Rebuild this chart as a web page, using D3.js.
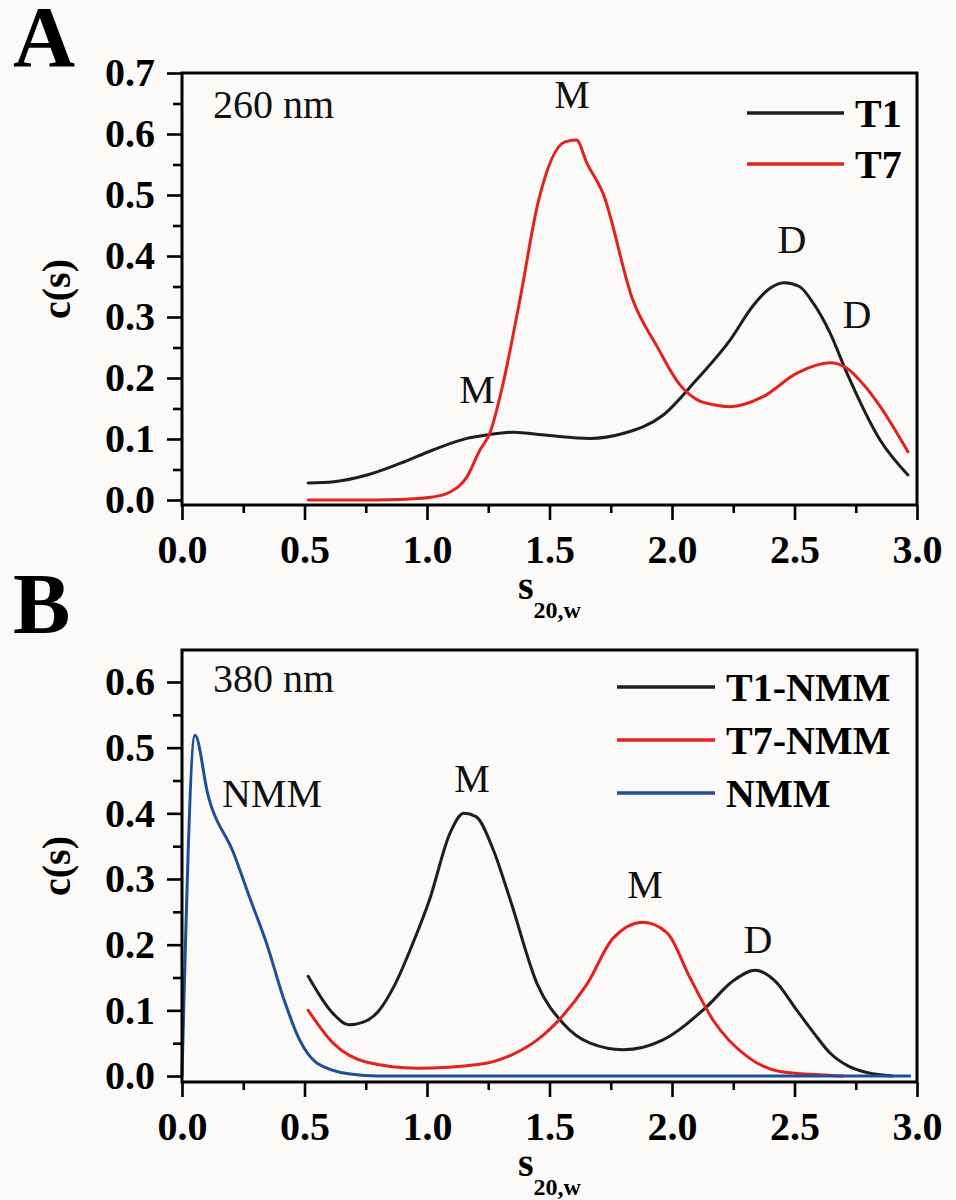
<!DOCTYPE html>
<meta charset="utf-8">
<style>
body { margin: 0; background: #fbfaf8; }
svg { display: block; font-family: "Liberation Serif", "Times New Roman", serif; }
.curve { fill: none; stroke-width: 3px; stroke-linejoin: round; stroke-linecap: round; }
.axis path { display: none; }
.axis line { stroke: #000; stroke-width: 2.6px; }
.axis text { font-family: "Liberation Serif", "Times New Roman", serif; font-size: 40px; font-weight: bold; fill: #000; }
.frame { fill: none; stroke: #000; stroke-width: 3px; }
.note { font-size: 40px; fill: #111; }
.legend text { font-size: 40px; font-weight: bold; fill: #000; }
.title { font-size: 40px; font-weight: bold; fill: #000; }
.letter { font-size: 86px; font-weight: bold; fill: #000; }
</style>
<body>
<script src="https://d3js.org/d3.v7.min.js"></script>
<script>

// tick values
var xTicks = [0, 0.5, 1.0, 1.5, 2.0, 2.5, 3.0];
var xMinor = [0.25, 0.75, 1.25, 1.75, 2.25, 2.75];
var yTicksA = [0, 0.1, 0.2, 0.3, 0.4, 0.5, 0.6, 0.7];
var yMinorA = [0.05, 0.15, 0.25, 0.35, 0.45, 0.55, 0.65];
var yTicksB = [0, 0.1, 0.2, 0.3, 0.4, 0.5, 0.6];
var yMinorB = [0.05, 0.15, 0.25, 0.35, 0.45, 0.55];

// panel A, 260 nm  [s20,w , c(s)]
var a_T1 = [[0.515,0.028],[0.62,0.030],[0.755,0.041],[0.89,0.060],[1.024,0.082],[1.163,0.101],
  [1.25,0.107],[1.35,0.111],[1.49,0.106],[1.665,0.101],[1.8,0.109],[1.963,0.139],[2.1,0.197],
  [2.237,0.262],[2.33,0.318],[2.40,0.347],[2.46,0.356],[2.52,0.350],[2.576,0.323],[2.645,0.274],
  [2.714,0.208],[2.85,0.098],[2.963,0.041]];
var a_T7 = [[0.515,0.0],[0.7,0.0],[0.89,0.001],[1.024,0.005],[1.094,0.013],[1.163,0.038],[1.216,0.082],
  [1.257,0.11],[1.31,0.19],[1.38,0.33],[1.453,0.487],[1.563,0.587],[1.61,0.59],[1.653,0.552],
  [1.718,0.503],[1.84,0.328],[1.94,0.251],[2.03,0.19],[2.1,0.165],[2.17,0.156],[2.237,0.153],
  [2.37,0.169],[2.51,0.208],[2.645,0.225],[2.714,0.216],[2.78,0.19],[2.85,0.153],[2.963,0.079]];

// panel B, 380 nm
var b_T1 = [[0.515,0.152],[0.617,0.095],[0.68,0.078],[0.74,0.082],[0.8,0.098],[0.87,0.14],[0.94,0.2],
  [1.01,0.268],[1.094,0.37],[1.15,0.40],[1.2,0.395],[1.27,0.345],[1.34,0.268],[1.45,0.14],[1.556,0.08],
  [1.666,0.05],[1.8,0.04],[1.963,0.055],[2.14,0.105],[2.25,0.145],[2.34,0.161],[2.42,0.145],[2.51,0.10],
  [2.58,0.065],[2.645,0.035],[2.72,0.015],[2.8,0.005],[2.9,0.0]];
var b_T7 = [[0.515,0.10],[0.617,0.05],[0.755,0.021],[0.96,0.012],[1.216,0.018],[1.35,0.033],[1.45,0.055],
  [1.55,0.09],[1.653,0.14],[1.76,0.21],[1.882,0.234],[1.98,0.218],[2.073,0.15],[2.168,0.085],[2.306,0.03],
  [2.44,0.007],[2.6,0.002],[2.7,0.0]];
var b_NMM = [[0.0,0.0],[0.053,0.519],[0.106,0.428],[0.21,0.34],[0.28,0.268],[0.347,0.20],[0.413,0.12],
  [0.48,0.055],[0.55,0.02],[0.686,0.003],[0.8,0.0],[2.97,0.0]];

// peak labels [text, s, c(s)]
var notesA = [["M",1.592,0.643],["D",2.49,0.405],["D",2.755,0.282],["M",1.204,0.159]];
var notesB = [["NMM",0.163,0.41],["M",1.184,0.432],["M",1.89,0.271],["D",2.351,0.187]];

var black = "#1e1e1e", red = "#e3221b", blue = "#1d4f9a";

var panels = [
  { letter: "A", letterY: 66, top: 73, bottom: 505, yDomain: [-0.0082, 0.7],
    yTicks: yTicksA, yMinor: yMinorA, wave: "260 nm", waveAt: [0.127, 0.626],
    series: [{name: "T1", data: a_T1, color: black}, {name: "T7", data: a_T7, color: red}],
    notes: notesA, legend: {x: 747, y: 113, gap: 51, len: 97} },
  { letter: "B", letterY: 633, top: 650, bottom: 1082, yDomain: [-0.0091, 0.6487],
    yTicks: yTicksB, yMinor: yMinorB, wave: "380 nm", waveAt: [0.127, 0.585],
    series: [{name: "T1-NMM", data: b_T1, color: black}, {name: "T7-NMM", data: b_T7, color: red},
             {name: "NMM", data: b_NMM, color: blue}],
    notes: notesB, legend: {x: 617, y: 687, gap: 53, len: 98} }
];

var left = 182, right = 917;

var svg = d3.select("body").append("svg")
  .attr("width", 956)
  .attr("height", 1200);

panels.forEach(function(p) {
  var x = d3.scaleLinear().domain([0, 3]).range([left, right]);
  var y = d3.scaleLinear().domain(p.yDomain).range([p.bottom, p.top]);
  var g = svg.append("g");

  // panel letter
  g.append("text").attr("class", "letter")
    .attr("x", 13).attr("y", p.letterY).text(p.letter);

  // curves
  var line = d3.line()
    .x(function(d) { return x(d[0]); })
    .y(function(d) { return y(d[1]); })
    .curve(d3.curveMonotoneX);
  p.series.forEach(function(s) {
    g.append("path").datum(s.data)
      .attr("class", "curve")
      .attr("stroke", s.color)
      .attr("d", line);
  });

  // x axis (major + minor)
  g.append("g").attr("class", "axis")
    .attr("transform", "translate(0," + p.bottom + ")")
    .call(d3.axisBottom(x).tickValues(xTicks).tickSize(15).tickPadding(15)
      .tickFormat(d3.format(".1f")));
  g.append("g").attr("class", "axis")
    .attr("transform", "translate(0," + p.bottom + ")")
    .call(d3.axisBottom(x).tickValues(xMinor).tickSize(8).tickFormat(""));

  // y axis
  g.append("g").attr("class", "axis")
    .attr("transform", "translate(" + left + ",0)")
    .call(d3.axisLeft(y).tickValues(p.yTicks).tickSize(15).tickPadding(12)
      .tickFormat(d3.format(".1f")));
  g.append("g").attr("class", "axis")
    .attr("transform", "translate(" + left + ",0)")
    .call(d3.axisLeft(y).tickValues(p.yMinor).tickSize(9).tickFormat(""));

  // frame
  g.append("rect").attr("class", "frame")
    .attr("x", left).attr("y", p.top)
    .attr("width", right - left).attr("height", p.bottom - p.top);

  // axis titles
  var xt = g.append("text").attr("class", "title")
    .attr("x", (left + right) / 2).attr("y", p.bottom + 94)
    .attr("text-anchor", "middle");
  xt.append("tspan").text("s");
  xt.append("tspan").attr("dy", 19).style("font-size", "24px").text("20,w");

  g.append("text").attr("class", "title")
    .attr("transform", "translate(70," + (p.top + p.bottom) / 2 + ") rotate(-90)")
    .attr("text-anchor", "middle")
    .text("c(s)");

  // wavelength + peak labels
  g.append("text").attr("class", "note")
    .attr("x", x(p.waveAt[0])).attr("y", y(p.waveAt[1]))
    .text(p.wave);
  g.selectAll(".peak").data(p.notes).enter().append("text")
    .attr("class", "note")
    .attr("text-anchor", function(d) { return d[0] === "NMM" ? "start" : "middle"; })
    .attr("x", function(d) { return x(d[1]); })
    .attr("y", function(d) { return y(d[2]); })
    .text(function(d) { return d[0]; });

  // legend
  var lg = g.append("g").attr("class", "legend");
  p.series.forEach(function(s, i) {
    var ly = p.legend.y + i * p.legend.gap;
    lg.append("line")
      .attr("x1", p.legend.x).attr("x2", p.legend.x + p.legend.len)
      .attr("y1", ly).attr("y2", ly)
      .attr("stroke", s.color).attr("stroke-width", 3.5);
    lg.append("text")
      .attr("x", p.legend.x + p.legend.len + 11).attr("y", ly + 14)
      .text(s.name);
  });
});

</script>
</body>
